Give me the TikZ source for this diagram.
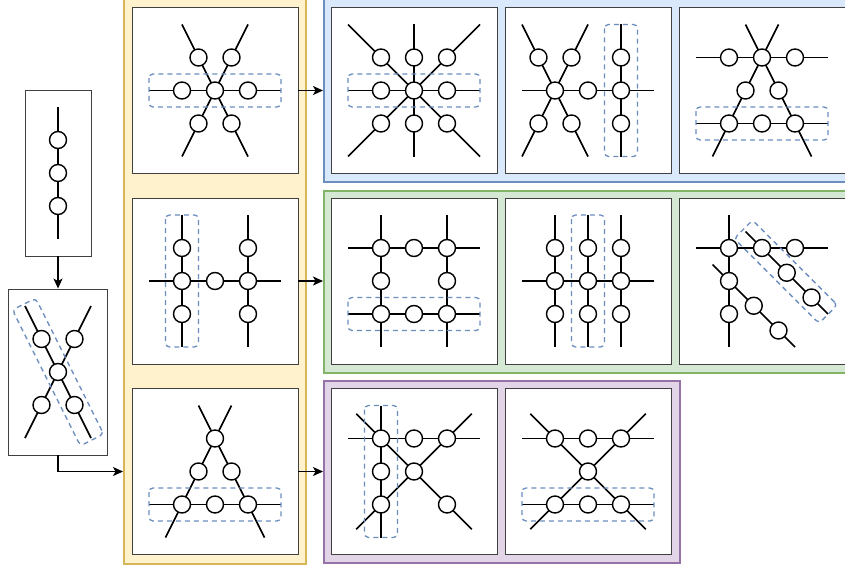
\documentclass[tikz,border=0pt]{standalone}
\usetikzlibrary{arrows.meta}
\definecolor{yelfill}{HTML}{FFF2CC}
\definecolor{yelline}{HTML}{D6B656}
\definecolor{blufill}{HTML}{DAE8FC}
\definecolor{bluline}{HTML}{6C8EBF}
\definecolor{grnfill}{HTML}{D5E8D4}
\definecolor{grnline}{HTML}{82B366}
\definecolor{purfill}{HTML}{E1D5E7}
\definecolor{purline}{HTML}{9673A6}
\definecolor{grpline}{HTML}{6C8EBF}
\begin{document}
\begin{tikzpicture}[x=1pt, y=-1pt,
    panel/.style={draw, line width=1.5pt, inner sep=0pt, anchor=north west},
    cell/.style={draw=black!75, fill=white, line width=0.9pt, minimum size=166pt, inner sep=0pt},
    site/.style={circle, draw, fill=white, line width=1.4pt, minimum size=17pt, inner sep=0pt},
    bond/.style={line width=1.7pt},
    group/.style={draw=grpline, dash pattern=on 5pt off 4pt, line width=1.3pt, rounded corners=4pt, inner sep=0pt},
    flow/.style={-{Stealth[length=10pt, width=9pt, inset=2.5pt]}, line width=1.4pt},
    unit/.style={x=33pt, y=-33pt}]
    \useasboundingbox (0,0) rectangle (845,567);
    \clip (0,0) rectangle (845,567);
    % Coloured panels
    \node[panel, draw=yelline, fill=yelfill, minimum width=182pt, minimum height=573pt] (yellow) at (123,-10) {};
    \node[panel, draw=bluline, fill=blufill, minimum width=550pt, minimum height=191pt] (blue) at (323,-10) {};
    \node[panel, draw=grnline, fill=grnfill, minimum width=550pt, minimum height=182pt] (green) at (323,190) {};
    \node[panel, draw=purline, fill=purfill, minimum width=356pt, minimum height=182pt] (purple) at (323,380) {};
    % Cells
    \node[cell, minimum width=66pt] (seed) at (58,173) {};
    \node[cell, minimum width=99pt] (pair) at (58,372) {};
    \node[cell] (yA) at (215,90.5) {};
    \node[cell] (yB) at (215,281) {};
    \node[cell] (yC) at (215,471.5) {};
    \node[cell] (bA) at (414,90.5) {};
    \node[cell] (bB) at (588,90.5) {};
    \node[cell] (bC) at (762,90.5) {};
    \node[cell] (gA) at (414,281) {};
    \node[cell] (gB) at (588,281) {};
    \node[cell] (gC) at (762,281) {};
    \node[cell] (pA) at (414,471.5) {};
    \node[cell] (pB) at (588,471.5) {};
    % Seed chain
    \begin{scope}[shift={(seed.center)}, unit]
        \draw[bond] (0,-2) -- (0,2);
        \node[site] (s1) at (0,-1) {};
        \node[site] (s2) at (0,0) {};
        \node[site] (s3) at (0,1) {};
    \end{scope}
    % Crossed pair
    \begin{scope}[shift={(pair.center)}, unit]
        \draw[bond] (-1,-2) -- (1,2);
        \draw[bond] (1,-2) -- (-1,2);
        \node[site] (c1) at (-0.5,-1) {};
        \node[site] (c2) at (0.5,-1) {};
        \node[site] (c3) at (0,0) {};
        \node[site] (c4) at (-0.5,1) {};
        \node[site] (c5) at (0.5,1) {};
    \end{scope}
    \node[group, minimum width=152pt, minimum height=26pt, rotate=-63.43] (pairgrp) at (pair.center) {};
    % Yellow: star
    \begin{scope}[shift={(yA.center)}, unit]
        \draw[bond] (-2,0) -- (2,0);
        \draw[bond] (-1,-2) -- (1,2);
        \draw[bond] (1,-2) -- (-1,2);
        \node[site] (yA1) at (-1,0) {};
        \node[site] (yA2) at (0,0) {};
        \node[site] (yA3) at (1,0) {};
        \node[site] (yA4) at (-0.5,-1) {};
        \node[site] (yA5) at (0.5,-1) {};
        \node[site] (yA6) at (-0.5,1) {};
        \node[site] (yA7) at (0.5,1) {};
        \draw[group] (-2,-0.5) rectangle (2,0.5);
    \end{scope}
    % Yellow: H
    \begin{scope}[shift={(yB.center)}, unit]
        \draw[bond] (-1,-2) -- (-1,2);
        \draw[bond] (1,-2) -- (1,2);
        \draw[bond] (-2,0) -- (2,0);
        \node[site] (yB1) at (-1,-1) {};
        \node[site] (yB2) at (-1,0) {};
        \node[site] (yB3) at (-1,1) {};
        \node[site] (yB4) at (0,0) {};
        \node[site] (yB5) at (1,-1) {};
        \node[site] (yB6) at (1,0) {};
        \node[site] (yB7) at (1,1) {};
        \draw[group] (-1.5,-2) rectangle (-0.5,2);
    \end{scope}
    % Yellow: triangle
    \begin{scope}[shift={(yC.center)}, unit]
        \draw[bond] (0.5,-2) -- (-1.5,2);
        \draw[bond] (-0.5,-2) -- (1.5,2);
        \draw[bond] (-2,1) -- (2,1);
        \node[site] (yC1) at (0,-1) {};
        \node[site] (yC2) at (-0.5,0) {};
        \node[site] (yC3) at (0.5,0) {};
        \node[site] (yC4) at (-1,1) {};
        \node[site] (yC5) at (0,1) {};
        \node[site] (yC6) at (1,1) {};
        \draw[group] (-2,0.5) rectangle (2,1.5);
    \end{scope}
    % Blue: eight-fold star
    \begin{scope}[shift={(bA.center)}, unit]
        \draw[bond] (-2,0) -- (2,0);
        \draw[bond] (0,-2) -- (0,2);
        \draw[bond] (-2,-2) -- (2,2);
        \draw[bond] (2,-2) -- (-2,2);
        \node[site] (bA1) at (-1,-1) {};
        \node[site] (bA2) at (0,-1) {};
        \node[site] (bA3) at (1,-1) {};
        \node[site] (bA4) at (-1,0) {};
        \node[site] (bA5) at (0,0) {};
        \node[site] (bA6) at (1,0) {};
        \node[site] (bA7) at (-1,1) {};
        \node[site] (bA8) at (0,1) {};
        \node[site] (bA9) at (1,1) {};
        \draw[group] (-2,-0.5) rectangle (2,0.5);
    \end{scope}
    % Blue: cross with column
    \begin{scope}[shift={(bB.center)}, unit]
        \draw[bond] (-2,-2) -- (0,2);
        \draw[bond] (0,-2) -- (-2,2);
        \draw[bond] (-2,0) -- (2,0);
        \draw[bond] (1,-2) -- (1,2);
        \node[site] (bB1) at (-1.5,-1) {};
        \node[site] (bB2) at (-0.5,-1) {};
        \node[site] (bB3) at (-1,0) {};
        \node[site] (bB4) at (-1.5,1) {};
        \node[site] (bB5) at (-0.5,1) {};
        \node[site] (bB6) at (0,0) {};
        \node[site] (bB7) at (1,-1) {};
        \node[site] (bB8) at (1,0) {};
        \node[site] (bB9) at (1,1) {};
        \draw[group] (0.5,-2) rectangle (1.5,2);
    \end{scope}
    % Blue: triangle with top row
    \begin{scope}[shift={(bC.center)}, unit]
        \draw[bond] (0.5,-2) -- (-1.5,2);
        \draw[bond] (-0.5,-2) -- (1.5,2);
        \draw[bond] (-2,-1) -- (2,-1);
        \draw[bond] (-2,1) -- (2,1);
        \node[site] (bC1) at (-1,-1) {};
        \node[site] (bC2) at (0,-1) {};
        \node[site] (bC3) at (1,-1) {};
        \node[site] (bC4) at (-0.5,0) {};
        \node[site] (bC5) at (0.5,0) {};
        \node[site] (bC6) at (-1,1) {};
        \node[site] (bC7) at (0,1) {};
        \node[site] (bC8) at (1,1) {};
        \draw[group] (-2,0.5) rectangle (2,1.5);
    \end{scope}
    % Green: ring
    \begin{scope}[shift={(gA.center)}, unit]
        \draw[bond] (-1,-2) -- (-1,2);
        \draw[bond] (1,-2) -- (1,2);
        \draw[bond] (-2,-1) -- (2,-1);
        \draw[bond] (-2,1) -- (2,1);
        \node[site] (gA1) at (-1,-1) {};
        \node[site] (gA2) at (0,-1) {};
        \node[site] (gA3) at (1,-1) {};
        \node[site] (gA4) at (-1,0) {};
        \node[site] (gA5) at (1,0) {};
        \node[site] (gA6) at (-1,1) {};
        \node[site] (gA7) at (0,1) {};
        \node[site] (gA8) at (1,1) {};
        \draw[group] (-2,0.5) rectangle (2,1.5);
    \end{scope}
    % Green: three columns
    \begin{scope}[shift={(gB.center)}, unit]
        \draw[bond] (-1,-2) -- (-1,2);
        \draw[bond] (0,-2) -- (0,2);
        \draw[bond] (1,-2) -- (1,2);
        \draw[bond] (-2,0) -- (2,0);
        \node[site] (gB1) at (-1,-1) {};
        \node[site] (gB2) at (0,-1) {};
        \node[site] (gB3) at (1,-1) {};
        \node[site] (gB4) at (-1,0) {};
        \node[site] (gB5) at (0,0) {};
        \node[site] (gB6) at (1,0) {};
        \node[site] (gB7) at (-1,1) {};
        \node[site] (gB8) at (0,1) {};
        \node[site] (gB9) at (1,1) {};
        \draw[group] (-0.5,-2) rectangle (0.5,2);
    \end{scope}
    % Green: corner with two diagonals
    \begin{scope}[shift={(gC.center)}, unit]
        \draw[bond] (-1,-2) -- (-1,2);
        \draw[bond] (-2,-1) -- (2,-1);
        \draw[bond] (-0.5,-1.5) -- (2,1);
        \draw[bond] (-1.5,-0.5) -- (1,2);
        \node[site] (gC1) at (-1,-1) {};
        \node[site] (gC2) at (-1,0) {};
        \node[site] (gC3) at (-1,1) {};
        \node[site] (gC4) at (0,-1) {};
        \node[site] (gC5) at (1,-1) {};
        \node[site] (gC6) at (0.75,-0.25) {};
        \node[site] (gC7) at (1.5,0.5) {};
        \node[site] (gC8) at (-0.25,0.75) {};
        \node[site] (gC9) at (0.5,1.5) {};
        \node[group, minimum width=120pt, minimum height=26pt, rotate=-45] (gCgrp) at (0.72,-0.28) {};
    \end{scope}
    % Purple: column and cross
    \begin{scope}[shift={(pA.center)}, unit]
        \draw[bond] (-1,-2) -- (-1,2);
        \draw[bond] (-2,-1) -- (2,-1);
        \draw[bond] (-1.75,-1.75) -- (1.75,1.75);
        \draw[bond] (1.75,-1.75) -- (-1.75,1.75);
        \node[site] (pA1) at (-1,-1) {};
        \node[site] (pA2) at (-1,0) {};
        \node[site] (pA3) at (-1,1) {};
        \node[site] (pA4) at (0,-1) {};
        \node[site] (pA5) at (1,-1) {};
        \node[site] (pA6) at (0,0) {};
        \node[site] (pA7) at (1,1) {};
        \draw[group] (-1.5,-2) rectangle (-0.5,2);
    \end{scope}
    % Purple: bow tie
    \begin{scope}[shift={(pB.center)}, unit]
        \draw[bond] (-2,-1) -- (2,-1);
        \draw[bond] (-2,1) -- (2,1);
        \draw[bond] (-1.75,-1.75) -- (1.75,1.75);
        \draw[bond] (1.75,-1.75) -- (-1.75,1.75);
        \node[site] (pB1) at (-1,-1) {};
        \node[site] (pB2) at (0,-1) {};
        \node[site] (pB3) at (1,-1) {};
        \node[site] (pB4) at (0,0) {};
        \node[site] (pB5) at (-1,1) {};
        \node[site] (pB6) at (0,1) {};
        \node[site] (pB7) at (1,1) {};
        \draw[group] (-2,0.5) rectangle (2,1.5);
    \end{scope}
    % Arrows
    \draw[flow] (seed.south) -- (pair.north);
    \draw[flow] (pair.south) |- (yC.west -| yellow.west);
    \draw[flow] (yA.east) -- (yA.east -| blue.west);
    \draw[flow] (yB.east) -- (yB.east -| green.west);
    \draw[flow] (yC.east) -- (yC.east -| purple.west);
\end{tikzpicture}
\end{document}
